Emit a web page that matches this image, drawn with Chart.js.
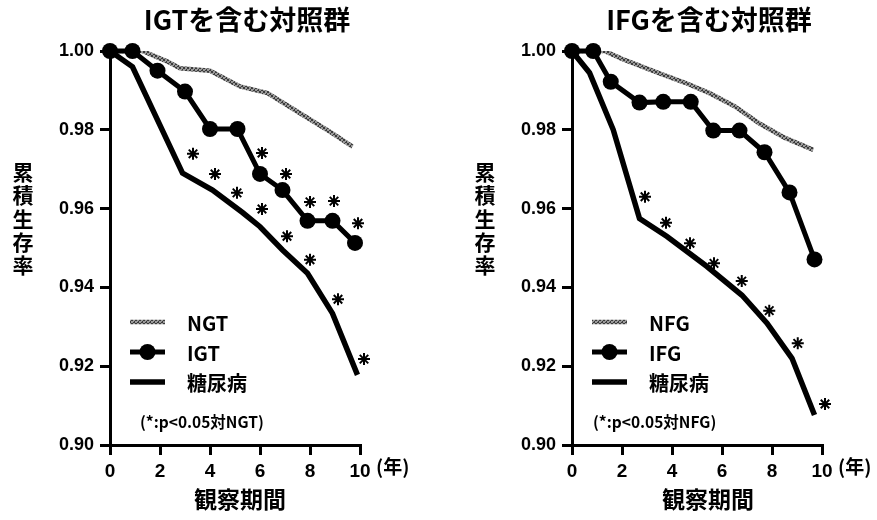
<!DOCTYPE html>
<html>
<head>
<meta charset="utf-8">
<script src="https://cdn.jsdelivr.net/npm/chart.js@4.4.0/dist/chart.umd.min.js"></script>
<style>
  body { margin: 0; background: #fff; }
  #wrap { position: relative; width: 877px; height: 520px; }
  .panel { position: absolute; top: 0; }
</style>
</head>
<body>
<div id="wrap">
  <div class="panel" style="left:0"><canvas id="left" width="460" height="520"></canvas></div>
  <div class="panel" style="left:460px"><canvas id="right" width="417" height="520"></canvas></div>
</div>
<script>
// values (years, cumulative survival)
const ngtYears = [0, 1.3, 2.3, 2.8, 4.0, 5.2, 6.3, 7.6, 8.9, 9.7];
const ngtSurv = [1.000, 1.000, 0.9973, 0.9956, 0.995, 0.991, 0.9893, 0.9842, 0.9791, 0.9757];

const igtYears = [0, 0.9, 1.9, 3.0, 4.0, 5.1, 6.0, 6.9, 7.9, 8.9, 9.8];
const igtSurv = [1.000, 1.000, 0.995, 0.9897, 0.9802, 0.9802, 0.9688, 0.9647, 0.9569, 0.9569, 0.9513];

const dmLeftYears = [0, 0.9, 2.9, 4.1, 5.3, 6.0, 6.9, 7.9, 8.9, 9.9];
const dmLeftSurv = [1.000, 0.996, 0.969, 0.9647, 0.959, 0.9554, 0.9495, 0.9436, 0.9334, 0.9178];

// significance marks (*) next to the curves
const starDmLeftX = [3.32, 4.2, 5.08, 6.08, 7.08, 8.0, 9.12, 10.16];
const starDmLeftY = [0.9739, 0.9688, 0.964, 0.9599, 0.953, 0.947, 0.937, 0.9218];
const starIgtX = [6.08, 7.04, 8.0, 8.96, 9.92];
const starIgtY = [0.9741, 0.9688, 0.9617, 0.9619, 0.9563];

const nfgYears = [0, 1.3, 2.0, 3.5, 4.5, 5.5, 6.5, 7.5, 8.5, 9.65];
const nfgSurv = [1.000, 1.000, 0.998, 0.9943, 0.992, 0.9893, 0.986, 0.9816, 0.978, 0.9749];

const ifgYears = [0, 0.85, 1.55, 2.7, 3.65, 4.75, 5.65, 6.7, 7.7, 8.7, 9.7];
const ifgSurv = [1.000, 1.000, 0.9922, 0.9869, 0.9871, 0.9871, 0.9798, 0.9798, 0.9743, 0.9641, 0.9471];

const dmRightYears = [0, 0.7, 1.65, 2.7, 3.8, 5.4, 6.8, 7.8, 8.8, 9.7];
const dmRightSurv = [1.000, 0.9945, 0.980, 0.9575, 0.9529, 0.9453, 0.938, 0.9309, 0.922, 0.9076];

const starDmRightX = [2.92, 3.76, 4.72, 5.68, 6.79, 7.89, 9.03, 10.12];
const starDmRightY = [0.963, 0.9564, 0.9512, 0.9461, 0.9416, 0.9341, 0.9258, 0.9104];

const xTicks = [0, 2, 4, 6, 8, 10];
const yTicks = [0.90, 0.92, 0.94, 0.96, 0.98, 1.00];

const pts = (xs, ys) => xs.map((x, i) => ({ x: x, y: ys[i] }));

// speckled grey for the control group line
function greyPattern() {
  const c = document.createElement('canvas');
  c.width = 4; c.height = 4;
  const g = c.getContext('2d');
  g.fillStyle = '#9a9a9a';
  g.fillRect(0, 0, 4, 4);
  g.fillStyle = '#3c3c3c';
  g.fillRect(0, 0, 1, 1); g.fillRect(2, 1, 1, 1); g.fillRect(1, 2, 1, 1); g.fillRect(3, 3, 1, 1);
  g.fillRect(3, 0, 1, 1); g.fillRect(0, 3, 1, 1); g.fillRect(2, 2, 1, 1);
  return g.createPattern(c, 'repeat');
}
const grey = greyPattern();

const CJK = '"Noto Sans CJK JP", sans-serif';

const panelText = {
  id: 'panelText',
  afterDraw(chart, args, o) {
    const ctx = chart.ctx;
    const a = chart.chartArea;
    const xs = chart.scales.x;
    const ds = chart.data.datasets;
    ctx.save();
    ctx.fillStyle = '#000';
    ctx.textBaseline = 'middle';
    ctx.textAlign = 'center';

    ctx.font = 'bold 27px ' + CJK;
    ctx.fillText(o.title, o.titleX, 20);

    ctx.font = 'bold 23px ' + CJK;
    ctx.fillText('観察期間', o.xTitleX, 499);

    ctx.font = 'bold 21px ' + CJK;
    [...'累積生存率'].forEach((c, i) => ctx.fillText(c, o.yTitleX, 172 + i * 23.3));

    ctx.font = 'bold 19px ' + CJK;
    ctx.textAlign = 'left';
    ctx.fillText('(年)', xs.getPixelForValue(10) + 16, 467);

    // legend
    const lx = a.left + 20, lw = 35;
    const rows = [322, 352, 382];
    for (let i = 0; i < 3; i++) {
      const d = ds[i];
      ctx.strokeStyle = d.borderColor;
      ctx.lineWidth = d.borderWidth;
      ctx.beginPath();
      ctx.moveTo(lx, rows[i]);
      ctx.lineTo(lx + lw, rows[i]);
      ctx.stroke();
      if (d.pointRadius > 0) {
        ctx.beginPath();
        ctx.arc(lx + lw / 2, rows[i], d.pointRadius, 0, Math.PI * 2);
        ctx.fillStyle = d.pointBackgroundColor;
        ctx.fill();
      }
      ctx.fillStyle = '#000';
      ctx.font = 'bold 20px ' + CJK;
      ctx.fillText(d.label, a.left + 77, rows[i] + 1);
    }
    ctx.font = 'bold 15.5px ' + CJK;
    ctx.fillText(o.note, a.left + o.noteDx, 422);
    ctx.restore();
  }
};

function makePanel(id, cfg) {
  const datasets = [
    { label: cfg.names[0], data: cfg.ctrl, borderColor: grey, borderWidth: 4.5,
      pointRadius: 0, order: 3 },
    { label: cfg.names[1], data: cfg.mid, borderColor: '#000', borderWidth: 5,
      pointRadius: 8, pointBackgroundColor: '#000', pointBorderWidth: 0, clip: false, order: 1 },
    { label: cfg.names[2], data: cfg.dm, borderColor: '#000', borderWidth: 5.5,
      pointRadius: 0, order: 2 }
  ];
  cfg.stars.forEach(s => datasets.push({
    label: '*', data: s, showLine: false, pointStyle: 'star', pointRadius: 6,
    pointBorderWidth: 2, borderColor: '#000', backgroundColor: '#000', clip: false, order: 0
  }));

  new Chart(document.getElementById(id), {
    type: 'line',
    data: { datasets: datasets },
    plugins: [panelText],
    options: {
      responsive: false,
      animation: false,
      layout: { padding: { left: 0, right: cfg.padRight, top: 51, bottom: 0 } },
      plugins: {
        legend: { display: false },
        tooltip: { enabled: false },
        panelText: cfg.text
      },
      scales: {
        x: {
          type: 'linear', min: 0, max: 10,
          afterFit: s => { s.height = 75; },
          afterBuildTicks: s => { s.ticks = xTicks.map(v => ({ value: v })); },
          border: { display: true, color: '#000', width: 3 },
          grid: { display: true, drawOnChartArea: false, color: '#000', lineWidth: 3, tickLength: 10 },
          ticks: { color: '#000', padding: 5, maxRotation: 0,
                   font: { family: 'Liberation Sans', weight: 'bold', size: 19 } }
        },
        y: {
          type: 'linear', min: 0.9, max: 1.0,
          afterFit: s => { s.width = cfg.yWidth; },
          afterBuildTicks: s => { s.ticks = yTicks.map(v => ({ value: v })); },
          border: { display: true, color: '#000', width: 3 },
          grid: { display: true, drawOnChartArea: false, color: '#000', lineWidth: 3, tickLength: 10 },
          ticks: { color: '#000', padding: 6, callback: v => v.toFixed(2),
                   font: { family: 'Liberation Sans', weight: 'bold', size: 18 } }
        }
      }
    }
  });
}

makePanel('left', {
  names: ['NGT', 'IGT', '糖尿病'],
  ctrl: pts(ngtYears, ngtSurv),
  mid: pts(igtYears, igtSurv),
  dm: pts(dmLeftYears, dmLeftSurv),
  stars: [pts(starDmLeftX, starDmLeftY), pts(starIgtX, starIgtY)],
  padRight: 100, yWidth: 110,
  text: { title: 'IGTを含む対照群', titleX: 247, xTitleX: 240, yTitleX: 23,
          note: '(*:p<0.05対NGT)', noteDx: 30 }
});

makePanel('right', {
  names: ['NFG', 'IFG', '糖尿病'],
  ctrl: pts(nfgYears, nfgSurv),
  mid: pts(ifgYears, ifgSurv),
  dm: pts(dmRightYears, dmRightSurv),
  stars: [pts(starDmRightX, starDmRightY)],
  padRight: 55, yWidth: 112,
  text: { title: 'IFGを含む対照群', titleX: 249, xTitleX: 248, yTitleX: 25,
          note: '(*:p<0.05対NFG)', noteDx: 21 }
});
</script>
</body>
</html>
